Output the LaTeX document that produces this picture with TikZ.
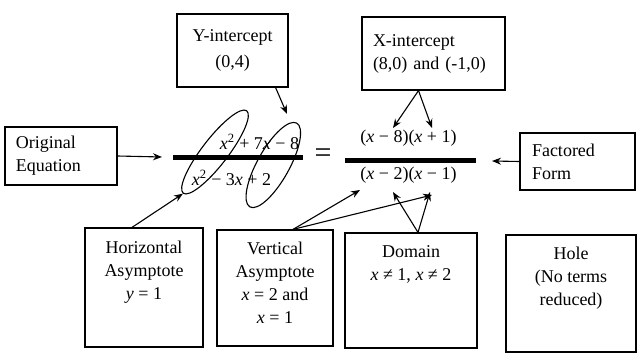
\documentclass[tikz,border=0pt]{standalone}
\usepackage{fontspec}
\setmainfont{Liberation Serif}
\usetikzlibrary{positioning,arrows.meta,shapes.geometric}

\newcommand{\vx}{\textit{x}}
\newcommand{\vy}{\textit{y}}

\begin{document}
\begin{tikzpicture}[
    x=1pt, y=1pt,
    every node/.style={font=\fontsize{18}{23}\selectfont},
    box/.style={draw, line width=1.2pt, inner sep=0pt},
    arr/.style={-{Stealth[length=9pt, width=7pt]}, line width=1.1pt},
    bar/.style={line width=5pt},
    loop/.style={draw, ellipse, line width=1.1pt, inner sep=0pt}
]
\useasboundingbox (0,0) rectangle (643,360);

% === Top boxes ===
\node[box, minimum width=111pt, minimum height=73pt, align=center] (yint) at (232.5,309.5) {Y-intercept\\[3pt](0,4)};
\node[box, minimum width=143pt, minimum height=73pt, text width=121pt, align=left] (xint) at (433.5,306.5) {X-intercept\\(8,0) and (-1,0)};

% === Side boxes ===
\node[box, minimum width=112pt, minimum height=58pt, text width=90pt, align=left] (orig) at (61,204) {Original\\Equation};
\node[box, minimum width=115pt, minimum height=57pt, text width=91pt, align=left] (fact) at (577.5,198.5) {Factored\\Form};

% === Bottom boxes ===
\node[box, minimum width=118pt, minimum height=119pt] (hasym) at (144,72.5) {};
\node[anchor=north, inner sep=0pt, align=center, yshift=-13pt] (hasymtxt) at (hasym.north) {Horizontal\\Asymptote\\\vy{} = 1};

\node[box, minimum width=116pt, minimum height=116pt] (vasym) at (275,72) {};
\node[anchor=north, inner sep=0pt, align=center, yshift=-12pt] (vasymtxt) at (vasym.north) {Vertical\\Asymptote\\\vx{} = 2 and\\\vx{} = 1};

\node[box, minimum width=132pt, minimum height=115pt] (domain) at (411,69.5) {};
\node[anchor=north, inner sep=0pt, align=center, yshift=-13pt] (domaintxt) at (domain.north) {Domain\\\vx{} ≠ 1, \vx{} ≠ 2};

\node[box, minimum width=130pt, minimum height=117pt] (hole) at (571,66.5) {};
\node[anchor=north, inner sep=0pt, align=center, yshift=-12pt] (holetxt) at (hole.north) {Hole\\(No terms\\reduced)};

% === Original equation ===
\node (lnum) at (259.5,218) {\vx\textsuperscript{2} + 7\vx{} − 8};
\draw[bar] (173,202.5) -- (303,202.5);
\node (lden) at (231.5,182) {\vx\textsuperscript{2} − 3\vx{} + 2};

\node[font=\fontsize{30}{30}\selectfont] (eq) at (323,204) {=};

% === Factored form ===
\node (rnum) at (408.5,222) {(\vx{} − 8)(\vx{} + 1)};
\draw[bar] (345,200) -- (476,200);
\node (rden) at (408.5,185) {(\vx{} − 2)(\vx{} − 1)};

% Circled terms
\node[loop, minimum width=104pt, minimum height=26pt, rotate=52.4] (eone) at (215,208) {};
\node[loop, minimum width=96pt, minimum height=32pt, rotate=60.8] (etwo) at (273.3,195) {};

% Arrow ends
\coordinate (lbar) at (162,203);
\coordinate (rbar) at (492,199);
\coordinate (yhit) at (287,246);
\coordinate (xeight) at (393,232);
\coordinate (xone) at (432,232);
\coordinate (vtwo) at (360,170);
\coordinate (vone) at (432,165);
\coordinate (dtwo) at (393,168);
\coordinate (done) at (430,168);

% === Arrows ===
\draw[arr] (orig.east) -- (lbar);
\draw[arr] (fact.west) -- (rbar);
\draw[arr] ([xshift=-13pt]yint.south east) -- (yhit);
\draw[arr] ([xshift=-15pt]xint.south) -- (xeight);
\draw[arr] ([xshift=-15pt]xint.south) -- (xone);
\draw[arr] ([xshift=-12pt]hasym.north) -- (eone.west);
\draw[arr] ([xshift=18pt]vasym.north) -- (vtwo);
\draw[arr] ([xshift=18pt]vasym.north) -- (vone);
\draw[arr] ([xshift=7pt]domain.north) -- (dtwo);
\draw[arr] ([xshift=7pt]domain.north) -- (done);

\end{tikzpicture}
\end{document}
